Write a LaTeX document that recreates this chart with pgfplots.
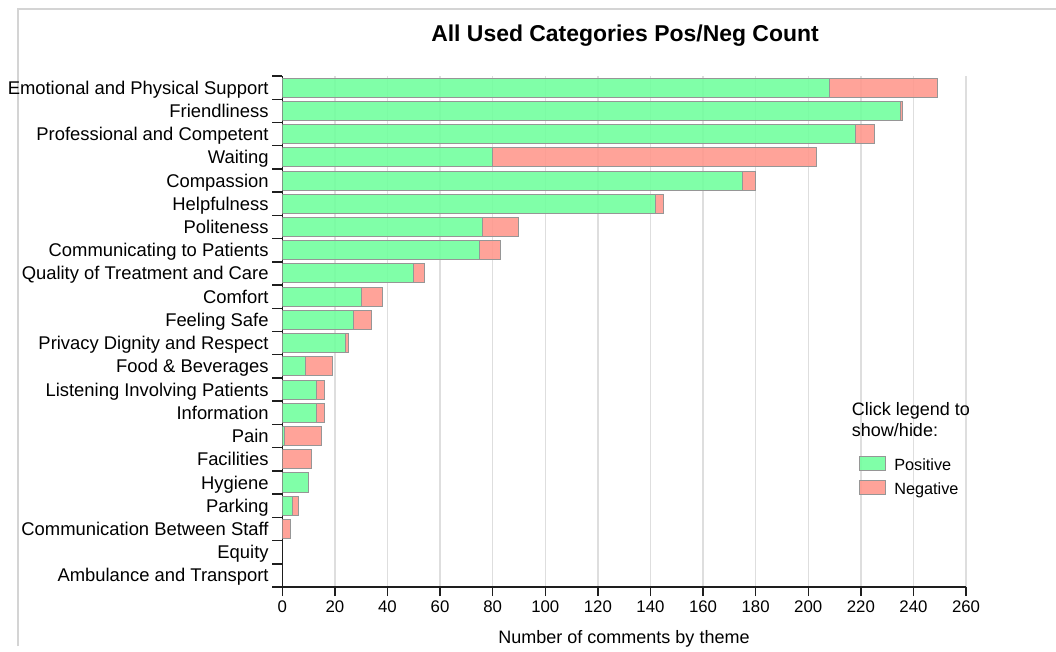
\documentclass[border=0pt]{standalone}
\usepackage{fontspec}
\setmainfont{Liberation Sans}
\usepackage{pgfplots}
\usepackage{pgfplotstable}
\pgfplotsset{compat=1.18}

\definecolor{posgreen}{RGB}{114,255,158}
\definecolor{negred}{RGB}{255,153,142}
\definecolor{bargray}{RGB}{150,150,150}
\definecolor{gridgray}{RGB}{222,222,222}
\definecolor{framegray}{RGB}{212,212,212}
\definecolor{axisblack}{RGB}{30,30,30}

% positive / negative comments per theme, top to bottom
\pgfplotstableread{
idx pos neg
0  208 41
1  235 1
2  218 7
3  80  123
4  175 5
5  142 3
6  76  14
7  75  8
8  50  4
9  30  8
10 27  7
11 24  1
12 9   10
13 13  3
14 13  3
15 1   14
16 0   11
17 10  0
18 4   2
19 0   3
20 0   0
21 0   0
}\themes

\begin{document}
\begin{tikzpicture}
\begin{scope}[x=0.75pt,y=-0.75pt]
\useasboundingbox (0,0) rectangle (1056,646);
\draw[line width=1.4pt, framegray] (18,646) -- (18,9) -- (1056,9);
\end{scope}

\begin{axis}[
  at={(211.725pt,-440.25pt)}, anchor=south west,
  scale only axis, width=512.8pt, height=383.25pt,
  xbar stacked, bar width=0.82,
  xmin=0, xmax=260, ymin=-0.5, ymax=21.5, y dir=reverse,
  axis lines*=left,
  axis line style={line width=1.2pt, axisblack},
  xtick={0,20,...,260},
  ytick={0,...,21},
  minor ytick={-0.5,0.5,...,21.5},
  yticklabels={Emotional and Physical Support, Friendliness, Professional and Competent,
    Waiting, Compassion, Helpfulness, Politeness, Communicating to Patients,
    Quality of Treatment and Care, Comfort, Feeling Safe, Privacy Dignity and Respect,
    Food \& Beverages, Listening Involving Patients, Information, Pain, Facilities,
    Hygiene, Parking, Communication Between Staff, Equity, Ambulance and Transport},
  tick align=outside,
  major tick length=6.75pt, minor tick length=7.5pt,
  every tick/.style={line width=1.1pt, axisblack},
  every major y tick/.style={draw=none},
  xmajorgrids,
  major x grid style={line width=1.1pt, gridgray},
  /pgf/number format/assume math mode=true,
  xticklabel style={font=\fontsize{12.6}{15}\selectfont},
  yticklabel style={font=\fontsize{13.8}{16}\selectfont, anchor=base east, yshift=-4.9pt},
  legend cell align=left,
  legend image code/.code={\draw[#1] (0pt,-2.5pt) rectangle (19.5pt,8pt);},
  legend style={draw=none, fill=none, at={(0.8435,0.2577)}, anchor=north west,
    inner sep=0pt, row sep=3.75pt, column sep=6pt,
    font=\fontsize{12.2}{14}\selectfont,
    nodes={inner sep=0pt, text height=9pt, text depth=3pt}},
]
\addplot[fill=posgreen, fill opacity=0.9, draw=bargray, line width=0.75pt]
  table[x=pos, y=idx] {\themes};
\addplot[fill=negred, fill opacity=0.9, draw=bargray, line width=0.75pt]
  table[x=neg, y=idx] {\themes};
\legend{Positive, Negative}
\end{axis}

\begin{scope}[x=0.75pt,y=-0.75pt]
\node[anchor=base, font=\bfseries\fontsize{17.2}{20}\selectfont] at (625,41.3)
  {All Used Categories Pos/Neg Count};
\node[anchor=base, font=\fontsize{13.5}{16}\selectfont] at (624,643)
  {Number of comments by theme};
\node[anchor=base west, inner sep=0pt, font=\fontsize{13.5}{16}\selectfont] at (851.7,415)
  {Click legend to};
\node[anchor=base west, inner sep=0pt, font=\fontsize{13.5}{16}\selectfont] at (851.7,436.7)
  {show/hide:};
\end{scope}
\end{tikzpicture}
\end{document}
